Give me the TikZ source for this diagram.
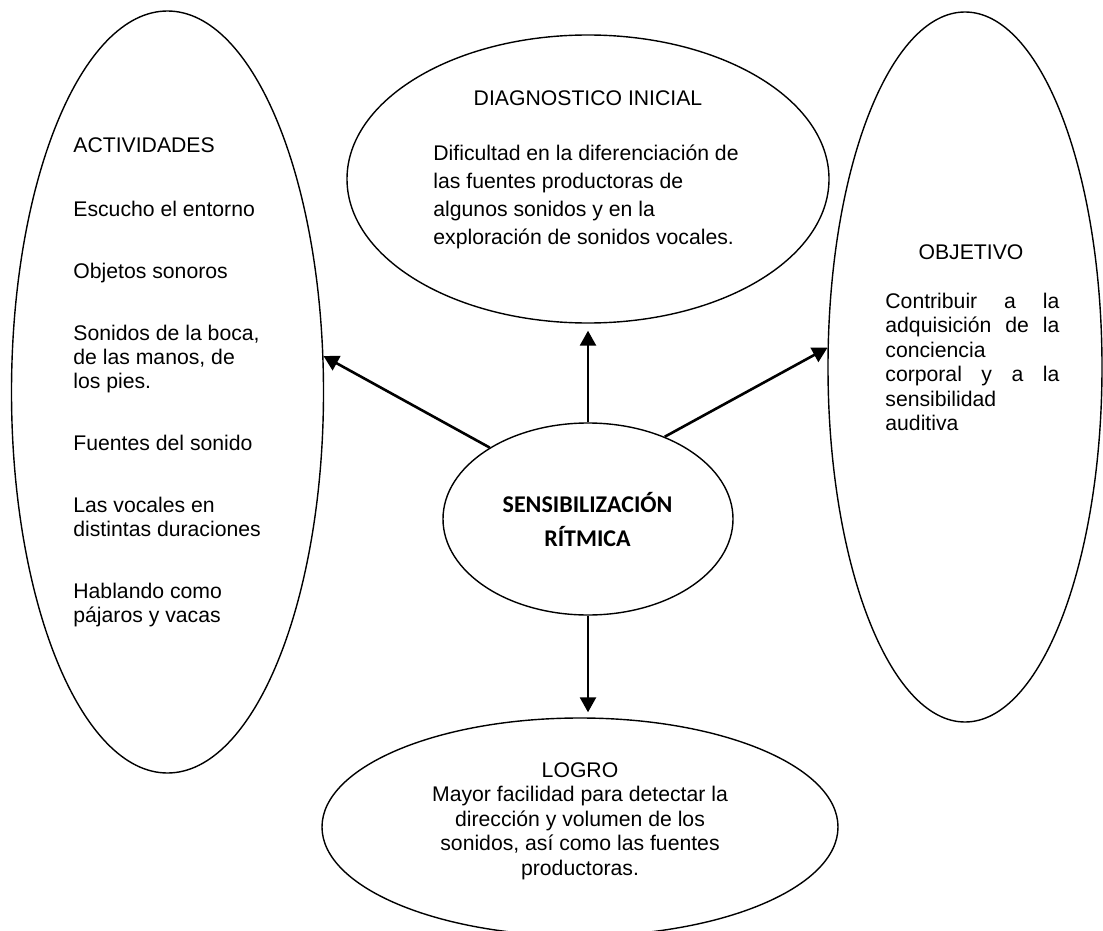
\documentclass[tikz,border=0pt]{standalone}
\usepackage{fontspec}
\setmainfont{Liberation Sans}
\newfontfamily\calibri{Carlito}
\usetikzlibrary{arrows.meta,shapes.geometric}
\newcommand\tstrut{\rule{0pt}{11pt}}
\tikzset{
  bubble/.style={draw, ellipse, line width=0.7pt, inner sep=0pt},
  arr/.style={line width=1.3pt, -{Triangle[length=7.5pt,width=8pt]}},
  txt/.style={inner sep=0pt, font=\fontsize{10.6}{12}\selectfont},
}
\begin{document}
\begin{tikzpicture}[x=0.5pt,y=-0.5pt]
\clip (0,0) rectangle (1103,931);
\fill[white] (0,0) rectangle (1103,931);
% ellipses
\node[bubble, minimum width=156pt, minimum height=381pt] (act) at (167.5,392) {};
\node[bubble, minimum width=241pt, minimum height=144pt] (diag) at (588,179) {};
\node[bubble, minimum width=137pt, minimum height=355pt] (obj) at (965,367) {};
\node[bubble, minimum width=145pt, minimum height=96pt] (c) at (588,519) {};
\node[bubble, minimum width=258pt, minimum height=109pt] (logro) at (580,827) {};
% texts
\node[txt, anchor=north west, align=left] (acttxt) at (73,130) {\tstrut ACTIVIDADES\\[20pt]
Escucho el entorno\\[19pt]
Objetos sonoros\\[19pt]
Sonidos de la boca,\\
de las manos, de\\
los pies.\\[19pt]
Fuentes del sonido\\[19pt]
Las vocales en\\
distintas duraciones\\[19pt]
Hablando como\\
pájaros y vacas};
\node[txt, anchor=base] (diaghead) at (588,105) {DIAGNOSTICO INICIAL};
\node[txt, anchor=north west, align=left, font=\fontsize{10.6}{14}\selectfont] (diagtxt) at (433,138) {\tstrut Dificultad en la diferenciación de\\
las fuentes productoras de\\
algunos sonidos y en la\\
exploración de sonidos vocales.};
\node[txt, anchor=base] (objhead) at (971,259) {OBJETIVO};
\node[txt, anchor=north west, align=left, font=\fontsize{10.6}{12.2}\selectfont] (objtxt) at (885,286) {\makebox[87pt][s]{\tstrut Contribuir a la}\\
\makebox[87pt][s]{adquisición de la}\\
conciencia\\
\makebox[87pt][s]{corporal y a la}\\
sensibilidad\\
auditiva};
\node[inner sep=0pt, anchor=north, align=center, font=\calibri\bfseries\fontsize{12}{17}\selectfont] (ctxt) at (587.5,490) {\tstrut SENSIBILIZACIÓN\\RÍTMICA};
\node[txt, anchor=north, align=center, font=\fontsize{10.6}{12.25}\selectfont] (logrotxt) at (580,755) {\tstrut LOGRO\\
Mayor facilidad para detectar la\\
dirección y volumen de los\\
sonidos, así como las fuentes\\
productoras.};
% connectors
\draw[arr] (c.144) -- (act.13);
\draw[arr, shorten >=3.5pt] (c.north) -- (diag.south);
\draw[arr] (c.47) -- (obj.172);
\draw[arr, shorten >=2.5pt] (c.south) -- (c.south |- logro.north);
\end{tikzpicture}
\end{document}
